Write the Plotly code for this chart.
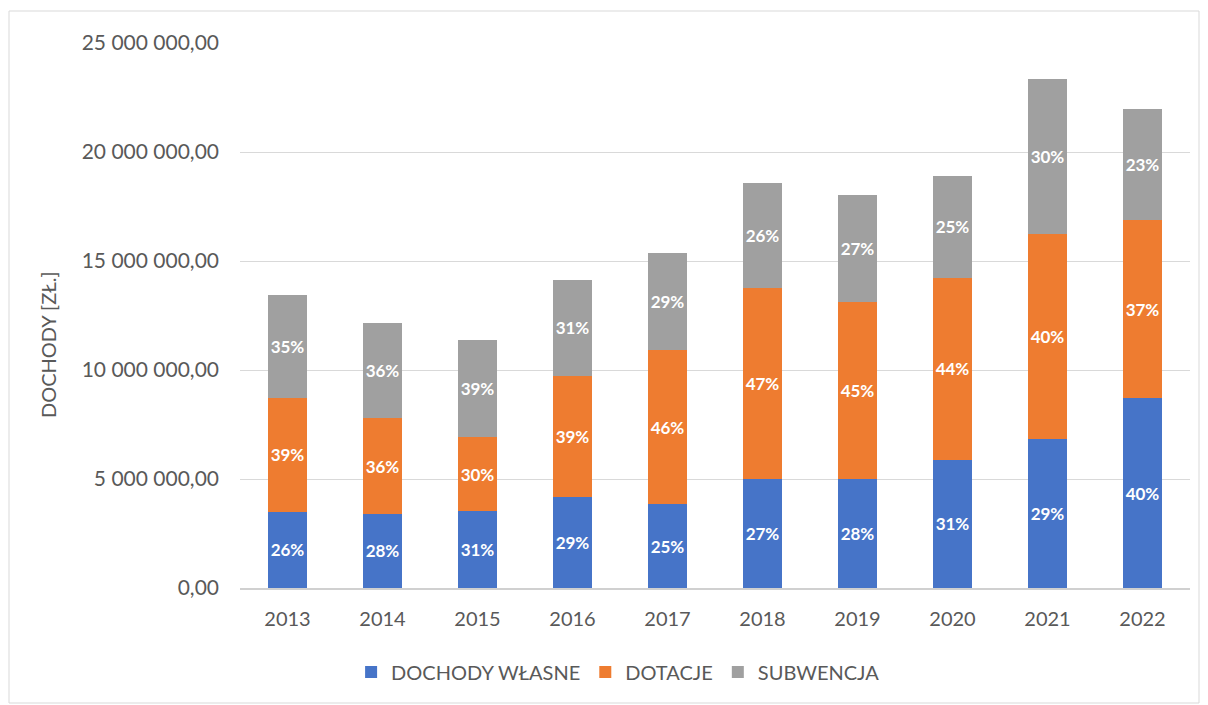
import plotly.graph_objects as go

# Budget revenue structure by year (PLN)
years = ["2013", "2014", "2015", "2016", "2017", "2018", "2019", "2020", "2021", "2022"]
dochody_wlasne = [3490000, 3400000, 3530000, 4160000, 3850000, 4980000, 5000000, 5890000, 6850000, 8700000]
dotacje = [5240000, 4380000, 3380000, 5550000, 7060000, 8800000, 8120000, 8320000, 9400000, 8180000]
subwencja = [4700000, 4380000, 4470000, 4440000, 4480000, 4820000, 4930000, 4710000, 7100000, 5070000]

series_names = ["DOCHODY WŁASNE", "DOTACJE", "SUBWENCJA"]
series_colors = ["#4674C8", "#EE7C30", "#A0A0A0"]

y_ticks = [0, 5000000, 10000000, 15000000, 20000000, 25000000]
y_tick_text = ["0,00", "5 000 000,00", "10 000 000,00", "15 000 000,00", "20 000 000,00", "25 000 000,00"]

totals = [a + b + c for a, b, c in zip(dochody_wlasne, dotacje, subwencja)]

FONT = "Lato"
GREY_TEXT = "#595959"

fig = go.Figure()
for name, values, color in zip(series_names, [dochody_wlasne, dotacje, subwencja], series_colors):
    shares = [f"{round(v / t * 100)}%" for v, t in zip(values, totals)]
    fig.add_trace(go.Bar(
        x=years,
        y=values,
        name=name,
        marker=dict(color=color, line=dict(width=0)),
        text=shares,
        textposition="inside",
        insidetextanchor="middle",
        textangle=0,
        constraintext="none",
        textfont=dict(family=FONT, size=17, color="white", weight="bold"),
        hoverinfo="skip",
    ))

L, R, T, B = 240, 18, 43, 117
W, H = 1208, 705
pw, ph = W - L - R, H - T - B

def px_x(x):
    return (x - L) / pw

def px_y(y):
    return (H - B - y) / ph

fig.update_layout(
    width=W,
    height=H,
    barmode="stack",
    bargap=0.59,
    margin=dict(l=L, r=R, t=T, b=B),
    paper_bgcolor="white",
    plot_bgcolor="white",
    font=dict(family=FONT, color=GREY_TEXT, size=20),
    showlegend=True,
    legend=dict(
        orientation="h",
        x=0.398,
        xanchor="center",
        y=px_y(672),
        yanchor="middle",
        font=dict(family=FONT, size=20, color=GREY_TEXT),
        itemsizing="constant",
        traceorder="normal",
        itemwidth=30,
    ),
    xaxis=dict(
        showgrid=False,
        showline=True,
        linecolor="#D0D0D0",
        linewidth=1.5,
        ticks="",
        ticklabelstandoff=12,
        tickfont=dict(family=FONT, size=20, color=GREY_TEXT),
    ),
    yaxis=dict(
        range=[0, 25000000],
        tickvals=y_ticks,
        ticktext=y_tick_text,
        showgrid=True,
        gridcolor="#D9D9D9",
        gridwidth=1,
        zeroline=False,
        showline=False,
        ticks="",
        ticklabelstandoff=20,
        tickfont=dict(family=FONT, size=21, color=GREY_TEXT),
    ),
    annotations=[dict(
        text="DOCHODY [ZŁ.]",
        xref="paper", yref="paper",
        x=px_x(48), y=px_y(345),
        textangle=-90,
        showarrow=False,
        font=dict(family=FONT, size=20, color=GREY_TEXT),
        xanchor="center", yanchor="middle",
    )],
    shapes=[dict(
        type="rect",
        xref="paper", yref="paper",
        x0=px_x(9), x1=px_x(1199),
        y0=px_y(703), y1=px_y(11),
        line=dict(color="#D9D9D9", width=1),
        fillcolor="rgba(0,0,0,0)",
        layer="below",
    )],
)

fig.write_html("out.html")
